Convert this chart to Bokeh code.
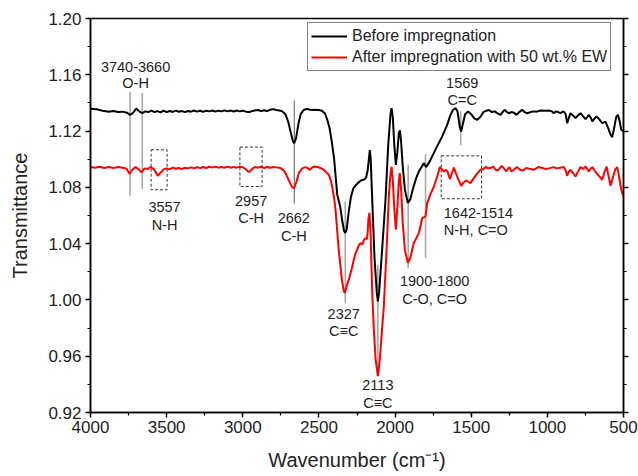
from bokeh.plotting import figure
from bokeh.models import Range1d, LinearAxis, FixedTicker, CustomJSTickFormatter, PrintfTickFormatter, Legend, LegendItem
from bokeh.embed import file_html
from bokeh.resources import INLINE
from bokeh.core.properties import value

# ---------------- data ----------------
before_wn = [4000, 3960, 3920, 3880, 3850, 3820, 3790, 3760, 3740, 3720, 3700, 3680, 3660, 3640, 3620, 3600,
             3580, 3560, 3540, 3520, 3500, 3480, 3460, 3440, 3420, 3400, 3380, 3360, 3340, 3320, 3300, 3280,
             3260, 3240, 3220, 3200, 3180, 3160, 3140, 3120, 3100, 3080, 3060, 3040, 3020, 3000, 2980, 2957,
             2930, 2900, 2880, 2860, 2840, 2820, 2800, 2780, 2760, 2740, 2720, 2700, 2685, 2670, 2662, 2650,
             2635, 2620, 2600, 2580, 2560, 2545, 2530, 2500, 2480, 2460, 2445, 2430, 2415, 2400, 2380, 2360,
             2345, 2335, 2327, 2318, 2305, 2290, 2275, 2260, 2245, 2225, 2200, 2190, 2180, 2172, 2166, 2160,
             2150, 2135, 2120, 2113, 2105, 2085, 2063, 2045, 2030, 2023, 2015, 2005, 1995, 1985, 1975, 1968,
             1960, 1950, 1935, 1916, 1900, 1880, 1860, 1845, 1830, 1812, 1795, 1770, 1746, 1720, 1691, 1658,
             1636, 1620, 1603, 1590, 1575, 1566, 1555, 1540, 1520, 1500, 1480, 1461, 1440, 1420, 1400, 1384,
             1365, 1345, 1329, 1308, 1290, 1281, 1265, 1253, 1235, 1220, 1203, 1185, 1165, 1150, 1132, 1110,
             1090, 1070, 1045, 1020, 990, 970, 958, 945, 930, 914, 900, 892, 880, 870, 860, 848, 835, 815, 800,
             782, 765, 749, 738, 728, 715, 705, 690, 677, 660, 640, 628, 618, 600, 585, 574, 560, 548, 537,
             525, 515, 500]
before_t = [1.1358, 1.1355, 1.1345, 1.1338, 1.1342, 1.1335, 1.1338, 1.1330, 1.1315, 1.1330, 1.1360, 1.1340,
            1.1328, 1.1340, 1.1335, 1.1345, 1.1335, 1.1342, 1.1333, 1.1345, 1.1335, 1.1343, 1.1336, 1.1345,
            1.1337, 1.1342, 1.1335, 1.1343, 1.1338, 1.1346, 1.1338, 1.1344, 1.1336, 1.1345, 1.1340, 1.1346,
            1.1338, 1.1345, 1.1340, 1.1347, 1.1340, 1.1346, 1.1339, 1.1346, 1.1340, 1.1345, 1.1338, 1.1335,
            1.1345, 1.1350, 1.1342, 1.1348, 1.1342, 1.1352, 1.1356, 1.1350, 1.1346, 1.1340, 1.1320, 1.1260,
            1.1190, 1.1125, 1.1115, 1.1150, 1.1250, 1.1320, 1.1350, 1.1358, 1.1352, 1.1350, 1.1352, 1.1350,
            1.1345, 1.1325, 1.1280, 1.1220, 1.1120, 1.1000, 1.0750, 1.0660, 1.0550, 1.0490, 1.0476, 1.0500,
            1.0620, 1.0730, 1.0790, 1.0812, 1.0830, 1.0848, 1.0858, 1.0870, 1.0920, 1.1000, 1.1065, 1.1000,
            1.0710, 1.0300, 1.0050, 0.9990, 1.0050, 1.0357, 1.0710, 1.1100, 1.1320, 1.1363, 1.1300, 1.1100,
            1.0960, 1.1050, 1.1190, 1.1205, 1.1120, 1.0950, 1.0780, 1.0690, 1.0715, 1.0800, 1.0870, 1.0910,
            1.0937, 1.0972, 1.0944, 1.0990, 1.1043, 1.1100, 1.1160, 1.1244, 1.1315, 1.1350, 1.1363, 1.1340,
            1.1230, 1.1197, 1.1250, 1.1320, 1.1340, 1.1320, 1.1290, 1.1280, 1.1300, 1.1335, 1.1345, 1.1350,
            1.1335, 1.1340, 1.1327, 1.1315, 1.1340, 1.1351, 1.1335, 1.1327, 1.1335, 1.1330, 1.1315, 1.1335,
            1.1351, 1.1335, 1.1327, 1.1335, 1.1340, 1.1338, 1.1346, 1.1345, 1.1346, 1.1340, 1.1327, 1.1340,
            1.1335, 1.1327, 1.1338, 1.1339, 1.1320, 1.1256, 1.1290, 1.1327, 1.1315, 1.1292, 1.1310, 1.1327,
            1.1305, 1.1285, 1.1300, 1.1315, 1.1295, 1.1268, 1.1290, 1.1303, 1.1285, 1.1256, 1.1262, 1.1268,
            1.1220, 1.1175, 1.1157, 1.1230, 1.1300, 1.1315, 1.1270, 1.1209, 1.1202]

after_wn = [4000, 3970, 3940, 3910, 3880, 3850, 3820, 3790, 3765, 3744, 3725, 3705, 3685, 3665, 3645, 3625,
            3605, 3585, 3570, 3558, 3540, 3520, 3500, 3480, 3460, 3440, 3420, 3400, 3380, 3360, 3340, 3320,
            3300, 3280, 3260, 3240, 3220, 3200, 3180, 3160, 3140, 3120, 3100, 3080, 3060, 3040, 3020, 3000,
            2980, 2965, 2954, 2940, 2920, 2900, 2880, 2860, 2840, 2820, 2800, 2780, 2752, 2730, 2710, 2690,
            2675, 2665, 2650, 2632, 2610, 2588, 2572, 2560, 2545, 2533, 2510, 2490, 2468, 2450, 2435, 2425,
            2413, 2400, 2391, 2370, 2350, 2337, 2330, 2320, 2304, 2285, 2271, 2260, 2249, 2238, 2227, 2215,
            2205, 2194, 2185, 2180, 2175, 2168, 2160, 2150, 2140, 2128, 2113, 2100, 2085, 2074, 2056, 2040,
            2030, 2023, 2015, 2005, 1995, 1985, 1975, 1969, 1960, 1950, 1935, 1916, 1900, 1877, 1860, 1844,
            1830, 1822, 1800, 1789, 1768, 1745, 1725, 1706, 1693, 1680, 1665, 1655, 1640, 1627, 1614, 1600,
            1588, 1566, 1550, 1533, 1520, 1505, 1490, 1472, 1455, 1439, 1420, 1405, 1390, 1373, 1355, 1340,
            1325, 1300, 1285, 1270, 1250, 1235, 1220, 1200, 1180, 1160, 1140, 1110, 1090, 1060, 1040, 1010,
            990, 960, 940, 914, 892, 880, 870, 860, 848, 830, 815, 800, 782, 765, 749, 738, 728, 718, 705,
            690, 677, 660, 640, 625, 611, 598, 585, 570, 553, 541, 528, 515, 500]
after_t = [1.0945, 1.0940, 1.0946, 1.0938, 1.0944, 1.0937, 1.0945, 1.0940, 1.0935, 1.0896, 1.0925, 1.0944,
           1.0930, 1.0906, 1.0935, 1.0930, 1.0945, 1.0930, 1.0905, 1.0882, 1.0905, 1.0928, 1.0935, 1.0928,
           1.0940, 1.0932, 1.0938, 1.0930, 1.0940, 1.0935, 1.0942, 1.0935, 1.0944, 1.0937, 1.0945, 1.0938,
           1.0946, 1.0940, 1.0947, 1.0940, 1.0945, 1.0940, 1.0947, 1.0940, 1.0945, 1.0940, 1.0946, 1.0943,
           1.0930, 1.0912, 1.0911, 1.0930, 1.0945, 1.0940, 1.0946, 1.0938, 1.0945, 1.0940, 1.0945, 1.0942,
           1.0937, 1.0920, 1.0880, 1.0830, 1.0800, 1.0795, 1.0830, 1.0901, 1.0935, 1.0944, 1.0935, 1.0925,
           1.0940, 1.0948, 1.0945, 1.0938, 1.0925, 1.0905, 1.0889, 1.0860, 1.0806, 1.0720, 1.0640, 1.0357,
           1.0150, 1.0065, 1.0050, 1.0090, 1.0144, 1.0220, 1.0286, 1.0330, 1.0357, 1.0390, 1.0404, 1.0395,
           1.0425, 1.0440, 1.0430, 1.0480, 1.0580, 1.0620, 1.0450, 1.0050, 0.9800, 0.9580, 0.9458, 0.9580,
           0.9800, 0.9950, 1.0357, 1.0750, 1.0900, 1.0948, 1.0850, 1.0650, 1.0500, 1.0650, 1.0850, 1.0901,
           1.0780, 1.0550, 1.0350, 1.0263, 1.0300, 1.0404, 1.0440, 1.0475, 1.0540, 1.0582, 1.0593, 1.0688,
           1.0750, 1.0806, 1.0870, 1.0944, 1.0930, 1.0913, 1.0925, 1.0910, 1.0859, 1.0900, 1.0941, 1.0900,
           1.0866, 1.0811, 1.0835, 1.0849, 1.0840, 1.0830, 1.0855, 1.0882, 1.0905, 1.0925, 1.0930, 1.0945,
           1.0935, 1.0937, 1.0948, 1.0925, 1.0920, 1.0953, 1.0935, 1.0913, 1.0944, 1.0913, 1.0925, 1.0944,
           1.0925, 1.0920, 1.0937, 1.0930, 1.0925, 1.0944, 1.0940, 1.0930, 1.0935, 1.0944, 1.0935, 1.0940,
           1.0944, 1.0920, 1.0882, 1.0910, 1.0925, 1.0900, 1.0877, 1.0910, 1.0944, 1.0930, 1.0948, 1.0930,
           1.0913, 1.0930, 1.0944, 1.0920, 1.0901, 1.0880, 1.0854, 1.0910, 1.0948, 1.0880, 1.0811, 1.0870,
           1.0930, 1.0944, 1.0870, 1.0783, 1.0735]

x_ticks = [4000, 3500, 3000, 2500, 2000, 1500, 1000, 500]
y_ticks = [0.92, 0.96, 1.00, 1.04, 1.08, 1.12, 1.16, 1.20]

# annotation marks (peak positions in data units)
peak_lines_w = [3740, 3660, 2327, 2113, 1914, 1800, 1569]
peak_lines_lo = [1.074, 1.079, 0.998, 0.946, 1.0227, 1.030, 1.110]
peak_lines_hi = [1.148, 1.147, 1.070, 1.025, 1.096, 1.1036, 1.134]
ch_line_w = [2662]
ch_line_lo = [1.0684]
ch_line_hi = [1.1417]

box_left = [3602, 3019, 1697]
box_right = [3497, 2873, 1432]
box_bottom = [1.0783, 1.0806, 1.0719]
box_top = [1.1067, 1.1086, 1.1024]

ann_text = ["3740-3660", "O-H", "3557", "N-H", "2957", "C-H", "2662", "C-H", "2327", "C\u2261C",
            "2113", "C\u2261C", "1900-1800", "C-O, C=O", "1569", "C=C"]
ann_x = [3704, 3704, 3514, 3514, 2945, 2945, 2665, 2665, 2337, 2337, 2113, 2113, 1740, 1740, 1559, 1559]
ann_y = [1.1658, 1.1540, 1.0660, 1.0534, 1.0705, 1.0582, 1.0582, 1.0456, 0.9903, 0.9777, 0.9392, 0.9269,
         1.0137, 1.0007, 1.1540, 1.1422]
ann_left_text = ["1642-1514", "N-H, C=O"]
ann_left_x = [1680, 1680]
ann_left_y = [1.0617, 1.0499]

FONT = "Liberation Sans"

p = figure(width=638, height=476, x_range=Range1d(4000, 500), y_range=Range1d(0.92, 1.20),
           output_backend="svg", toolbar_location=None,
           min_border_left=90, min_border_right=15, min_border_top=18, min_border_bottom=64)
p.xgrid.visible = False
p.ygrid.visible = False
p.outline_line_color = "black"
p.outline_line_width = 1.5
p.background_fill_color = "white"
p.border_fill_color = "white"

# annotations under curves
p.segment(x0=peak_lines_w, x1=peak_lines_w, y0=peak_lines_lo, y1=peak_lines_hi,
          line_color="#a8a8a8", line_width=1.6)
p.segment(x0=ch_line_w, x1=ch_line_w, y0=ch_line_lo, y1=ch_line_hi, line_color="#555555", line_width=1)
p.quad(left=box_left, right=box_right, bottom=box_bottom, top=box_top, fill_color=None,
       line_color="#333333", line_width=1, line_dash="3 2")

r1 = p.line(before_wn, before_t, line_color="black", line_width=2)
r2 = p.line(after_wn, after_t, line_color="#ff0000", line_width=2)

p.text(x=ann_x, y=ann_y, text=ann_text, text_align="center", text_baseline="middle",
       text_font=value(FONT), text_font_size="14.5px", text_color="#222222")
p.text(x=ann_left_x, y=ann_left_y, text=ann_left_text, text_align="left", text_baseline="middle",
       text_font=value(FONT), text_font_size="14.5px", text_color="#222222")

# axes styling
for ax in [p.xaxis[0], p.yaxis[0]]:
    ax.axis_line_width = 1.5
    ax.major_tick_line_width = 1.5
    ax.minor_tick_line_width = 1.2
    ax.major_tick_in = 0
    ax.major_tick_out = 5
    ax.minor_tick_in = 0
    ax.minor_tick_out = 3
    ax.major_label_text_font = FONT
    ax.major_label_text_font_size = "17px"
    ax.major_label_text_color = "#222222"
    ax.axis_label_text_font = FONT
    ax.axis_label_text_font_size = "20px"
    ax.axis_label_text_font_style = "normal"
    ax.axis_label_text_color = "#222222"

xminor = [v - 250 for v in x_ticks[:-1]]
yminor = [round(v + 0.02, 2) for v in y_ticks[:-1]]
p.xaxis[0].ticker = FixedTicker(ticks=x_ticks, minor_ticks=xminor)
p.yaxis[0].ticker = FixedTicker(ticks=y_ticks, minor_ticks=yminor)
p.yaxis[0].formatter = PrintfTickFormatter(format="%.2f")
p.xaxis[0].axis_label = "Wavenumber (cm\u207b\u00b9)"
p.yaxis[0].axis_label = "Transmittance"
p.xaxis[0].major_label_standoff = 3
p.yaxis[0].major_label_standoff = 4
p.xaxis[0].axis_label_standoff = 13
p.yaxis[0].axis_label_standoff = 14

right = LinearAxis(ticker=FixedTicker(ticks=y_ticks, minor_ticks=yminor),
                   formatter=CustomJSTickFormatter(code="return ''"))
right.axis_line_width = 1.5
right.major_tick_line_width = 1.5
right.minor_tick_line_width = 1.2
right.major_tick_in = 0
right.major_tick_out = 5
right.minor_tick_in = 0
right.minor_tick_out = 3
right.major_label_text_font_size = "1px"
p.add_layout(right, "right")

legend = Legend(items=[LegendItem(label="Before impregnation", renderers=[r1]),
                       LegendItem(label="After impregnation with 50 wt.% EW", renderers=[r2])],
                location=(217, 341), orientation="vertical")
legend.label_text_font = FONT
legend.label_text_font_size = "16px"
legend.label_text_color = "#222222"
legend.glyph_width = 36
legend.glyph_height = 20
legend.label_height = 20
legend.label_standoff = 5
legend.padding = 3
legend.spacing = 1
legend.margin = 0
legend.border_line_color = "black"
legend.border_line_width = 1
legend.background_fill_color = "white"
legend.background_fill_alpha = 1
p.add_layout(legend)

open("out.html", "w").write(file_html(p, INLINE))
